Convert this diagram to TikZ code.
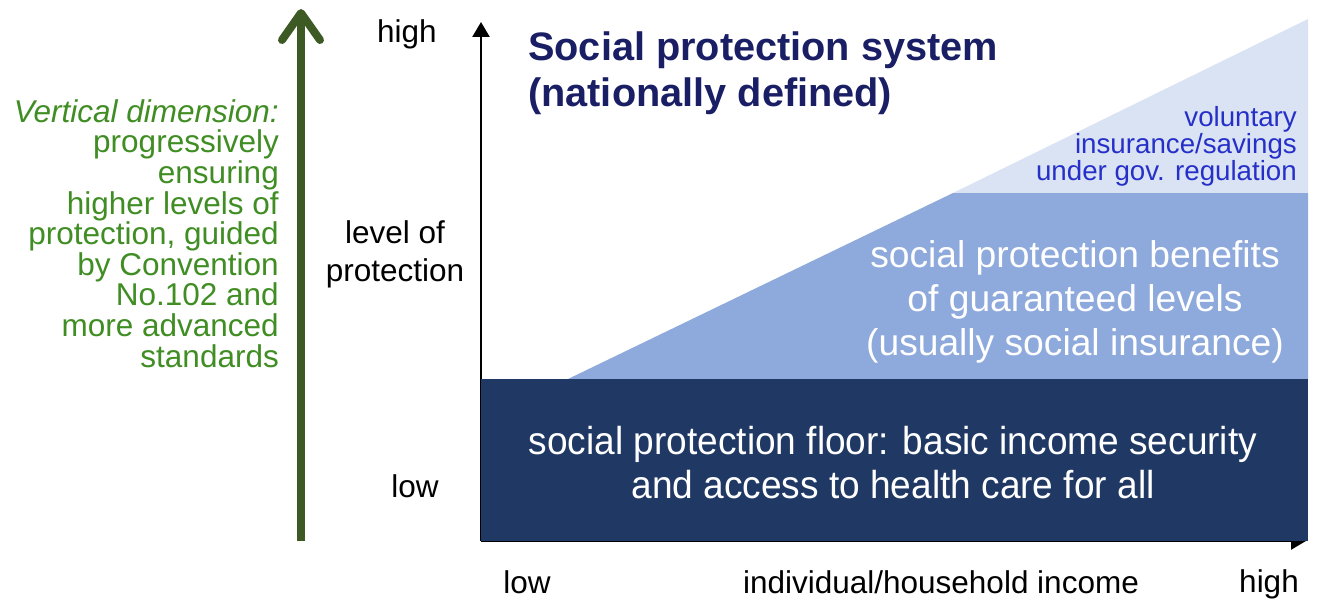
\documentclass[tikz,border=0pt]{standalone}
\usepackage{fontspec}
\setmainfont{Liberation Sans}
\newfontfamily\narrowsans{Liberation Sans}[FakeStretch=0.95]
\usetikzlibrary{arrows.meta}
\definecolor{navy}{RGB}{32,56,100}
\definecolor{midblue}{RGB}{142,169,219}
\definecolor{lightblue}{RGB}{218,227,243}
\definecolor{titleblue}{RGB}{26,30,100}
\definecolor{volblue}{RGB}{38,48,200}
\definecolor{greentext}{RGB}{63,141,35}
\definecolor{darkgreen}{RGB}{61,90,36}
\tikzset{
  axislabel/.style={font=\fontsize{31.5}{38}\selectfont, text=black, inner sep=0pt, anchor=base},
  whitetext/.style={text=white, align=center, inner sep=0pt, anchor=base},
  axisline/.style={line width=2.5pt, -{Triangle[length=15pt,width=17pt]}},
}
\begin{document}
\begin{tikzpicture}[x=1pt,y=-1pt]
\useasboundingbox (0,0) rectangle (1319,599);
% coordinates
\coordinate (origin) at (481,541);
\coordinate (ytop) at (481,22);
\coordinate (xend) at (1306,541);
\coordinate (gbot) at (301,541);
\coordinate (gtop) at (301,9);
% axes
\draw[axisline] (origin) -- (ytop);
\draw[axisline] (origin) -- (xend);
% regions
\fill[lightblue] (953,193) -- (1308,19) -- (1308,193) -- cycle;
\fill[midblue] (568,379) -- (953,193) -- (1308,193) -- (1308,379) -- cycle;
\fill[navy] (481,379) rectangle (1308,541);
% green arrow
\draw[darkgreen, line width=8pt, -{Straight Barb[round, length=27pt, width=38pt, line width=8pt]}] (gbot) -- (gtop);
% axis texts
\node[axislabel] (yhigh) at (407,43) {high};
\node[axislabel, align=center] (ylevel) at (395,281) {level of\\protection};
\node[axislabel] (ylow) at (415,497) {low};
\node[axislabel] (xlow) at (527,593) {low};
\node[axislabel] (xmid) at (941,593) {individual/household income};
\node[axislabel] (xhigh) at (1269,592) {high};
% title
\node[anchor=base west, align=left, inner sep=0pt, text=titleblue, font=\fontsize{39.7}{47}\selectfont\bfseries] (title) at (528,107) {Social protection system\\(nationally defined)};
% region texts
\node[anchor=base east, align=right, inner sep=0pt, text=volblue, font=\fontsize{27.7}{27}\selectfont] (vol) at (1297,180) {voluntary\\insurance/savings\\under gov. regulation};
\node[whitetext, font=\fontsize{37.2}{44}\selectfont] (benefits) at (1075,355) {social protection benefits\\of guaranteed levels\\(usually social insurance)};
\node[whitetext, font=\narrowsans\fontsize{39}{44}\selectfont] (floor) at (893,498) {social protection floor: basic income security\\and access to health care for all};
% green text
\node[anchor=base east, align=right, inner sep=0pt, text=greentext, font=\fontsize{31.5}{30.6}\selectfont] (green) at (279,367) {\textit{Vertical dimension:}\\progressively\\ensuring\\higher levels of\\protection, guided\\by Convention\\No.102 and\\more advanced\\standards};
\end{tikzpicture}
\end{document}
